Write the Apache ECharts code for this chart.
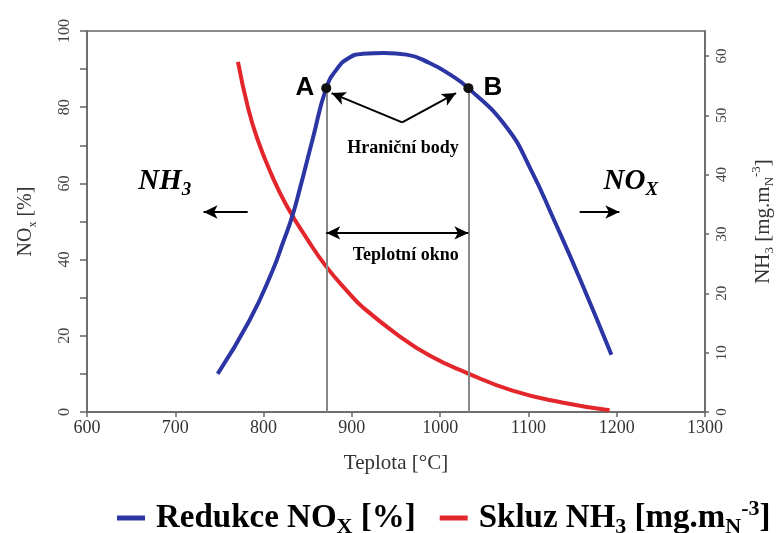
<!DOCTYPE html>
<html>
<head>
<meta charset="utf-8">
<script src="https://cdn.jsdelivr.net/npm/echarts@6/dist/echarts.min.js"></script>
<style>
html, body { margin: 0; padding: 0; background: #fff; }
#chart { width: 776px; height: 533px; }
</style>
</head>
<body>
<div id="chart"></div>
<script>
// Redukce NOx [%] (levá osa)
const noxTemp = [748, 784, 810, 822, 832, 841, 856, 871, 883, 897, 912, 937, 962, 988, 1011, 1032, 1075, 1103, 1129, 1159, 1194];
const noxValue = [10, 24, 37, 44.5, 51, 58.5, 72, 85, 90, 93, 94, 94.2, 93.8, 91.6, 88.6, 85, 74.8, 63.5, 50.4, 34.6, 15];
// Skluz NH3 [mg.mN-3] (pravá osa)
const nh3Temp = [771, 782, 793, 809, 826, 850, 871, 897, 912, 951, 988, 1030, 1082, 1138, 1192];
const nh3Value = [59, 51.5, 46, 40, 34.8, 29, 24.5, 20, 17.7, 13.1, 9.5, 6.6, 3.6, 1.6, 0.3];
// hranicni body A, B
const boundaryA = [871, 85];
const boundaryB = [1032, 85];

const serif = "Liberation Serif";
const chart = echarts.init(document.getElementById("chart"));

const pair = (t, v) => t.map((x, i) => [x, v[i]]);
const arrowLine = (from, to, both) => [
  { coord: from, symbol: both ? "arrow" : "none" },
  { coord: to, symbol: "arrow" }
];
const textPoint = (coord, text) => ({
  coord: coord,
  symbolSize: 0,
  label: { show: true, position: "inside", formatter: text }
});

chart.setOption({
  animation: false,
  textStyle: { fontFamily: serif },
  grid: {
    left: 87,
    right: 71,
    top: 31,
    bottom: 121,
    outerBoundsMode: "none",
    containLabel: false,
    show: true,
    borderColor: "#666",
    borderWidth: 1.5
  },
  legend: {
    left: 112,
    top: 493,
    itemGap: 24,
    itemWidth: 28,
    itemHeight: 5,
    icon: "rect",
    textStyle: {
      fontFamily: serif,
      fontWeight: "bold",
      fontSize: 33,
      color: "#000",
      padding: [0, 0, 0, 6],
      rich: {
        n: { fontFamily: serif, fontWeight: "bold", fontSize: 33, color: "#000", lineHeight: 40 },
        s: { fontFamily: serif, fontWeight: "bold", fontSize: 22, color: "#000", verticalAlign: "bottom", lineHeight: 24 },
        p: { fontFamily: serif, fontWeight: "bold", fontSize: 22, color: "#000", verticalAlign: "top", lineHeight: 24 }
      }
    },
    formatter: function(name) {
      if (name.indexOf("Redukce") === 0) return "{n|Redukce NO}{s|X}{n| [%]}";
      return "{n|Skluz NH}{s|3}{n| [mg.m}{s|N}{p|-3}{n|]}";
    },
    data: ["Redukce NOX [%]", "Skluz NH3 [mg.mN-3]"]
  },
  xAxis: {
    type: "value",
    min: 600,
    max: 1300,
    interval: 100,
    name: "Teplota [°C]",
    nameLocation: "middle",
    nameGap: 41,
    nameTextStyle: { fontFamily: serif, fontSize: 21, color: "#333" },
    axisLine: { lineStyle: { color: "#666", width: 1.5 } },
    axisTick: { show: true, length: 5, lineStyle: { color: "#666", width: 1.5 } },
    axisLabel: { fontFamily: serif, fontSize: 18, color: "#333", margin: 7, formatter: v => String(v) },
    splitLine: { show: false }
  },
  yAxis: [
    {
      type: "value",
      min: 0,
      max: 100,
      interval: 10,
      name: "{n|NO}{s|x}{n| [%]}",
      nameLocation: "middle",
      nameGap: 48,
      nameTextStyle: {
        color: "#333",
        rich: {
          n: { fontFamily: serif, fontSize: 20, color: "#333", lineHeight: 26 },
          s: { fontFamily: serif, fontSize: 12, color: "#333", verticalAlign: "bottom", lineHeight: 16 }
        }
      },
      axisLine: { show: true, lineStyle: { color: "#666", width: 1.5 } },
      axisTick: { show: true, length: 7, lineStyle: { color: "#666", width: 1.5 } },
      axisLabel: {
        rotate: 90,
        fontFamily: serif,
        fontSize: 16,
        color: "#444",
        margin: 14,
        formatter: v => (v % 20 === 0 ? String(v) : "")
      },
      splitLine: { show: false }
    },
    {
      type: "value",
      min: 0,
      max: 64.2,
      interval: 10,
      position: "right",
      name: "{n|NH}{s|3}{n| [mg.m}{s|N}{p|-3}{n|]}",
      nameLocation: "middle",
      nameGap: 45,
      nameTextStyle: {
        color: "#333",
        rich: {
          n: { fontFamily: serif, fontSize: 21, color: "#333", lineHeight: 26 },
          s: { fontFamily: serif, fontSize: 13, color: "#333", verticalAlign: "bottom", lineHeight: 16 },
          p: { fontFamily: serif, fontSize: 13, color: "#333", verticalAlign: "top", lineHeight: 16 }
        }
      },
      axisLine: { show: true, lineStyle: { color: "#666", width: 1.5 } },
      axisTick: { show: true, length: 4, lineStyle: { color: "#666", width: 1.5 } },
      axisLabel: {
        rotate: 90,
        fontFamily: serif,
        fontSize: 15,
        color: "#444",
        margin: 10,
        showMaxLabel: false
      },
      splitLine: { show: false }
    }
  ],
  series: [
    {
      name: "Redukce NOX [%]",
      type: "line",
      yAxisIndex: 0,
      smooth: 0.5,
      showSymbol: false,
      color: "#2b35a3",
      lineStyle: { width: 4, color: "#2b35a3" },
      data: pair(noxTemp, noxValue),
      z: 3,
      markLine: {
        silent: true,
        symbol: ["none", "none"],
        symbolSize: [10, 14],
        label: { show: false },
        lineStyle: { color: "#000", width: 2, type: "solid" },
        data: [
          [
            { coord: [boundaryA[0], 0], lineStyle: { color: "#888", width: 2 } },
            { coord: boundaryA }
          ],
          [
            { coord: [boundaryB[0], 0], lineStyle: { color: "#888", width: 2 } },
            { coord: boundaryB }
          ],
          arrowLine([957, 76], [877, 83.7]),
          arrowLine([957, 76], [1018, 83.7]),
          arrowLine([871, 47], [1032, 47], true),
          arrowLine([782, 52.5], [732, 52.5]),
          arrowLine([1158, 52.5], [1203, 52.5])
        ]
      },
      markPoint: {
        silent: true,
        symbol: "circle",
        symbolSize: 10,
        itemStyle: { color: "#111" },
        label: {
          color: "#000",
          fontFamily: serif,
          fontWeight: "bold",
          fontSize: 18,
          rich: {
            i: { fontFamily: serif, fontStyle: "italic", fontWeight: "bold", fontSize: 29, color: "#000", lineHeight: 36 },
            is: { fontFamily: serif, fontStyle: "italic", fontWeight: "bold", fontSize: 19, color: "#000", verticalAlign: "bottom", lineHeight: 20 }
          }
        },
        data: [
          {
            coord: boundaryA,
            label: { show: true, position: "left", distance: 7, formatter: "A", fontFamily: "Liberation Sans", fontSize: 26, fontWeight: "bold" }
          },
          {
            coord: boundaryB,
            label: { show: true, position: "right", distance: 10, formatter: "B", fontFamily: "Liberation Sans", fontSize: 26, fontWeight: "bold" }
          },
          textPoint([958, 69.3], "Hraniční body"),
          textPoint([961, 41.2], "Teplotní okno"),
          textPoint([688, 60.5], "{i|NH}{is|3}"),
          textPoint([1216, 60.5], "{i|NO}{is|X}")
        ]
      }
    },
    {
      name: "Skluz NH3 [mg.mN-3]",
      type: "line",
      yAxisIndex: 1,
      smooth: 0.5,
      showSymbol: false,
      color: "#e3262b",
      lineStyle: { width: 4, color: "#e3262b" },
      data: pair(nh3Temp, nh3Value),
      z: 2
    }
  ]
});
</script>
</body>
</html>
